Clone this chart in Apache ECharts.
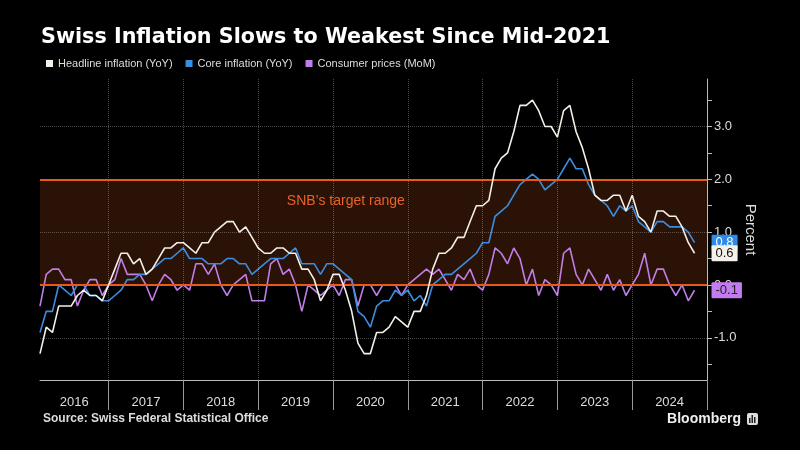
<!DOCTYPE html>
<html><head><meta charset="utf-8">
<script src="https://cdn.jsdelivr.net/npm/echarts@6/dist/echarts.min.js"></script>
<style>html,body{margin:0;padding:0;background:#000;}#c{width:800px;height:450px;}</style>
</head><body><div id="c"></div>
<script>
// ---- data (monthly, Jan 2016 .. Oct 2024) ----
const years = ['2016','2017','2018','2019','2020','2021','2022','2023','2024'];
const seriesNames = ['Headline inflation (YoY)', 'Core inflation (YoY)', 'Consumer prices (MoM)'];
const headline = [
  -1.3,-0.8,-0.9,-0.4,-0.4,-0.4,-0.2,-0.1,-0.2,-0.2,-0.3,0.0,
  0.3,0.6,0.6,0.4,0.5,0.2,0.3,0.5,0.7,0.7,0.8,0.8,
  0.7,0.6,0.8,0.8,1.0,1.1,1.2,1.2,1.0,1.1,0.9,0.7,
  0.6,0.6,0.7,0.7,0.6,0.6,0.3,0.3,0.1,-0.3,-0.1,0.2,
  0.2,-0.1,-0.5,-1.1,-1.3,-1.3,-0.9,-0.9,-0.8,-0.6,-0.7,-0.8,
  -0.5,-0.5,-0.2,0.3,0.6,0.6,0.7,0.9,0.9,1.2,1.5,1.5,
  1.6,2.2,2.4,2.5,2.9,3.4,3.4,3.5,3.3,3.0,3.0,2.8,
  3.3,3.4,2.9,2.6,2.2,1.7,1.6,1.6,1.7,1.7,1.4,1.7,
  1.3,1.2,1.0,1.4,1.4,1.3,1.3,1.1,0.8,0.6
];
const core = [
  -0.9,-0.5,-0.5,0.0,-0.1,-0.2,0.0,0.0,-0.2,-0.2,-0.3,-0.3,
  -0.2,-0.1,0.1,0.1,0.2,0.2,0.3,0.4,0.5,0.5,0.6,0.7,
  0.5,0.5,0.5,0.4,0.4,0.4,0.5,0.5,0.4,0.4,0.2,0.3,
  0.4,0.5,0.5,0.5,0.6,0.7,0.4,0.4,0.4,0.2,0.4,0.4,
  0.3,0.2,0.1,-0.5,-0.6,-0.8,-0.4,-0.3,-0.3,-0.1,-0.2,-0.1,
  -0.3,-0.2,-0.4,0.0,0.1,0.2,0.2,0.3,0.4,0.5,0.6,0.8,
  0.8,1.3,1.4,1.5,1.7,1.9,2.0,2.1,2.0,1.8,1.9,2.0,
  2.2,2.4,2.2,2.2,1.9,1.7,1.6,1.5,1.3,1.5,1.4,1.5,
  1.2,1.1,1.0,1.2,1.2,1.1,1.1,1.1,1.0,0.8
];
const mom = [
  -0.4,0.2,0.3,0.3,0.1,0.1,-0.4,-0.1,0.1,0.1,-0.2,0.0,
  0.1,0.5,0.2,0.2,0.2,0.0,-0.3,0.0,0.2,0.1,-0.1,0.0,
  -0.1,0.4,0.4,0.2,0.4,0.0,-0.2,0.0,0.1,0.2,-0.3,-0.3,
  -0.3,0.4,0.5,0.2,0.3,0.0,-0.5,0.0,-0.1,-0.2,-0.1,0.0,
  -0.2,0.1,0.1,-0.4,0.0,0.0,-0.2,0.0,0.0,0.0,-0.2,0.0,
  0.1,0.2,0.3,0.2,0.3,0.1,-0.1,0.2,0.1,0.3,0.0,-0.1,
  0.2,0.7,0.6,0.4,0.7,0.5,0.0,0.3,-0.2,0.1,0.0,-0.2,
  0.6,0.7,0.2,0.0,0.3,0.1,-0.1,0.2,-0.1,0.1,-0.2,0.0,
  0.2,0.6,0.0,0.3,0.3,0.0,-0.2,0.0,-0.3,-0.1
];
const yLabelValues = [-1, 0, 1, 2, 3];
const yMinorValues = [-1.5,-1,-0.5,0,0.5,1,1.5,2,2.5,3,3.5];
const gridLineValues = [3, 1, -1];
const targetRange = [0, 2];
const targetLabel = 'SNB’s target range';

// ---- derived ----
const toXY = arr => arr.map((v, i) => [i, v]);
const lastMonth = years.length * 12 - 1;             // Dec of last year
const yearEnds = years.map((y, k) => 12 * k + 11);   // boundaries
const yearMids = years.map((y, k) => k === 0 ? 5.5 : 12 * k + 5);
const FONT = 'Liberation Sans';

const chart = echarts.init(document.getElementById('c'), null, {renderer: 'canvas'});

function endLabel(bg, fg) {
  return {
    show: true, formatter: p => p.value[1].toFixed(1),
    backgroundColor: bg, color: fg, fontSize: 13, fontFamily: FONT,
    padding: [2, 4, 1, 4], offset: [9, 0], borderRadius: 1
  };
}

chart.setOption({
  backgroundColor: '#000',
  animation: false,
  title: {
    text: 'Swiss Inflation Slows to Weakest Since Mid-2021',
    left: 41, top: 27, padding: 0,
    textStyle: {color: '#fff', fontSize: 20.7, fontWeight: 'bold', fontFamily: 'DejaVu Sans'}
  },
  legend: {
    data: seriesNames, left: 46, top: 58, padding: 0,
    icon: 'rect', itemWidth: 7, itemHeight: 7, itemGap: 13,
    textStyle: {color: '#ddd', fontSize: 11, fontFamily: FONT}
  },
  grid: {left: 40, right: 93, top: 79, bottom: 70, containLabel: false, outerBoundsMode: 'none'},
  xAxis: {
    type: 'value', min: 0, max: lastMonth,
    axisLine: {show: true, onZero: false, lineStyle: {color: '#bbb', width: 1}},
    axisTick: {show: true, customValues: yearEnds, length: 30, lineStyle: {color: '#999'}},
    axisLabel: {customValues: yearMids, formatter: v => years[Math.round((v - 5) / 12)],
      color: '#ddd', fontSize: 13, margin: 16, fontFamily: FONT},
    splitLine: {show: false}
  },
  yAxis: {
    type: 'value', position: 'right', min: -1.8, max: 3.9,
    axisLine: {show: true, onZero: false, lineStyle: {color: '#bbb', width: 1}},
    axisTick: {show: true, customValues: yMinorValues, length: 5, lineStyle: {color: '#bbb'}},
    axisLabel: {customValues: yLabelValues, formatter: v => v.toFixed(1),
      color: '#ddd', fontSize: 13, margin: 7, fontFamily: FONT},
    splitLine: {show: false},
    name: 'Percent', nameLocation: 'middle', nameRotate: -90, nameGap: 36,
    nameMoveOverlap: false,
    nameTextStyle: {color: '#ddd', fontSize: 15, fontFamily: FONT}
  },
  series: [
    {
      type: 'line', data: [], z: 1, silent: true,
      markArea: {
        silent: true, itemStyle: {color: '#2b1207'},
        label: {show: true, formatter: targetLabel, position: ['37%', '14%'],
          color: '#e8622a', fontSize: 14, fontFamily: FONT},
        data: [[{yAxis: targetRange[0]}, {yAxis: targetRange[1]}]]
      },
      markLine: {
        silent: true, symbol: ['none', 'none'], label: {show: false},
        lineStyle: {type: 'dotted', color: 'rgba(255,255,255,0.28)', width: 1},
        data: yearEnds.slice(0, -1).map(v => ({xAxis: v})).concat(gridLineValues.map(v => ({yAxis: v})))
      }
    },
    {
      name: seriesNames[2], type: 'line', data: toXY(mom), z: 3,
      showSymbol: false, color: '#c07ee6',
      lineStyle: {width: 1.6, color: '#c07ee6'},
      endLabel: endLabel('#c27cf0', '#222')
    },
    {
      name: seriesNames[1], type: 'line', data: toXY(core), z: 4,
      showSymbol: false, color: '#3b8de0',
      lineStyle: {width: 1.6, color: '#3b8de0'},
      endLabel: endLabel('#2e8ae6', '#fff')
    },
    {
      name: seriesNames[0], type: 'line', data: toXY(headline), z: 5,
      showSymbol: false, color: '#f4efe6',
      lineStyle: {width: 1.6, color: '#f4efe6'},
      endLabel: endLabel('#f4f0ea', '#111')
    },
    {
      type: 'line', data: [], z: 8, silent: true,
      markLine: {
        silent: true, symbol: ['none', 'none'], label: {show: false},
        lineStyle: {type: 'solid', color: '#e8591a', width: 2},
        data: targetRange.map(v => ({yAxis: v}))
      }
    }
  ],
  graphic: [
    {type: 'text', left: 43, top: 413, silent: true,
      style: {text: 'Source: Swiss Federal Statistical Office', fill: '#ddd',
        font: 'bold 12px "Liberation Sans"'}},
    {type: 'text', silent: true,
      style: {x: 741, y: 419, text: 'Bloomberg', fill: '#eee', textAlign: 'right',
        textVerticalAlign: 'middle', font: 'bold 14px "Liberation Sans"'}},
    {type: 'group', x: 747, y: 413, silent: true, children: [
      {type: 'rect', shape: {x: 0, y: 0, width: 11, height: 12, r: 2}, style: {fill: '#ddd'}},
      {type: 'rect', shape: {x: 2, y: 5, width: 1.5, height: 5}, style: {fill: '#222'}},
      {type: 'rect', shape: {x: 4.5, y: 2, width: 1.5, height: 8}, style: {fill: '#222'}},
      {type: 'rect', shape: {x: 7, y: 4, width: 1.5, height: 6}, style: {fill: '#222'}}
    ]}
  ]
});
</script>
</body></html>
